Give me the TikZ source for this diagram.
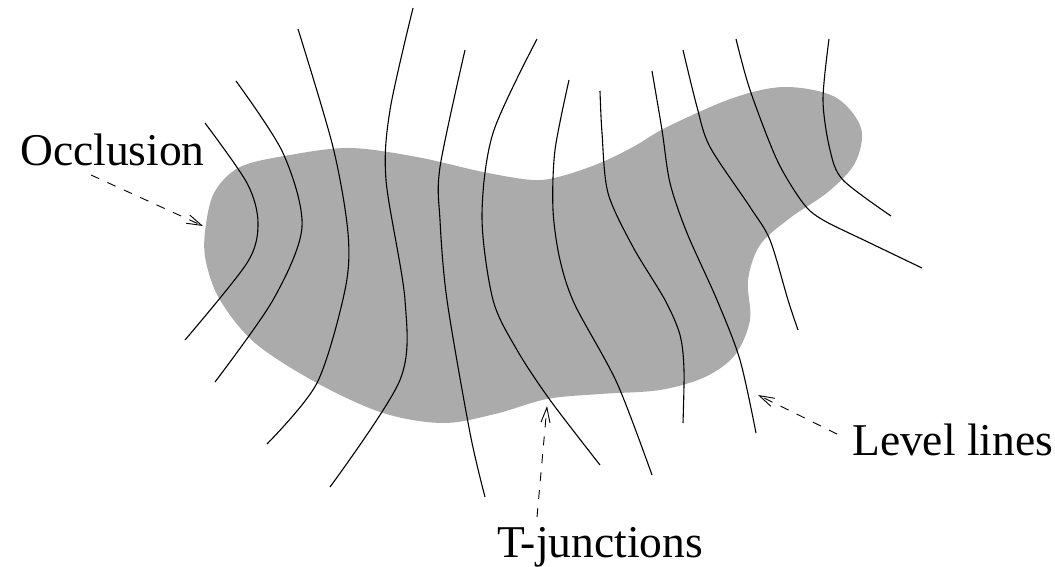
\documentclass[tikz,border=0pt]{standalone}
\usepackage{fontspec}
\setmainfont{Liberation Serif}
\usetikzlibrary{arrows.meta}
\definecolor{blobgray}{RGB}{171,171,171}
\begin{document}
\begin{tikzpicture}[x=1pt,y=-1pt,
  levelline/.style={line width=1.1pt, black},
  pointer/.style={line width=0.9pt, dash pattern=on 9pt off 9pt, -{Straight Barb[length=15pt,width=9pt]}},
  lbl/.style={font=\fontsize{45.5}{54}\selectfont, inner sep=0pt, anchor=base west}]
\useasboundingbox (0,0) rectangle (1055,567);
% occluding blob
\fill[blobgray] plot[smooth cycle, tension=0.55] coordinates {
 (205,232) (214,193) (240,167) (290,155) (350,148) (417,157) (483,172) (533,180)
 (562,176) (600,163) (633,147) (667,127) (733,98) (785,87) (835,97) (861,128) (855,163)
 (828,192) (790,218) (760,245) (748,280) (750,320) (735,355) (705,377) (660,390)
 (600,394) (547,399) (495,414) (443,423) (383,413) (317,383) (255,343) (220,300) (206,262)};
% level lines
\draw[levelline] plot[smooth] coordinates {(205,123) (247,183) (258,223) (247,263) (185,340)};
\draw[levelline] plot[smooth] coordinates {(236,81) (283,153) (302,227) (273,300) (215,382)};
\draw[levelline] plot[smooth] coordinates {(298,29) (333,147) (348,233) (345,290) (317,383) (267,444)};
\draw[levelline] plot[smooth] coordinates {(413,8) (390,110) (386,180) (405,300) (400,380) (330,487)};
\draw[levelline] plot[smooth] coordinates {(465,50) (440,167) (440,220) (447,300) (470,433) (485,497)};
\draw[levelline] plot[smooth] coordinates {(537,39) (493,133) (482,217) (493,300) (517,350) (550,400) (600,465)};
\draw[levelline] plot[smooth] coordinates {(569,80) (555,150) (553,210) (560,260) (575,305) (617,383) (652,475)};
\draw[levelline] plot[smooth] coordinates {(600,91) (602,133) (608,193) (633,247) (665,300) (680,335) (684,370) (683,423)};
\draw[levelline] plot[smooth] coordinates {(652,71) (662,130) (670,183) (687,233) (717,300) (740,360) (756,433)};
\draw[levelline] plot[smooth] coordinates {(683,50) (697,107) (710,147) (750,207) (770,240) (788,300) (798,330)};
\draw[levelline] plot[smooth] coordinates {(736,39) (750,90) (777,160) (803,203) (823,220) (870,243) (922,268)};
\draw[levelline] plot[smooth] coordinates {(829,39) (823,100) (830,150) (843,180) (891,216)};
% labels
\node[lbl] (occ) at (20,165) {Occlusion};
\node[lbl] (tj) at (497,557) {T-junctions};
\node[lbl] (ll) at (852,455) {Level lines};
% arrows
\coordinate (occS) at (91,175);
\coordinate (occT) at (203,226);
\coordinate (tjS) at (537,517);
\coordinate (tjT) at (547,406);
\coordinate (llS) at (837,434);
\coordinate (llT) at (758,395);
\draw[pointer] (occS) -- (occT);
\draw[pointer] (tjS) -- (tjT);
\draw[pointer] (llS) -- (llT);
\end{tikzpicture}
\end{document}
